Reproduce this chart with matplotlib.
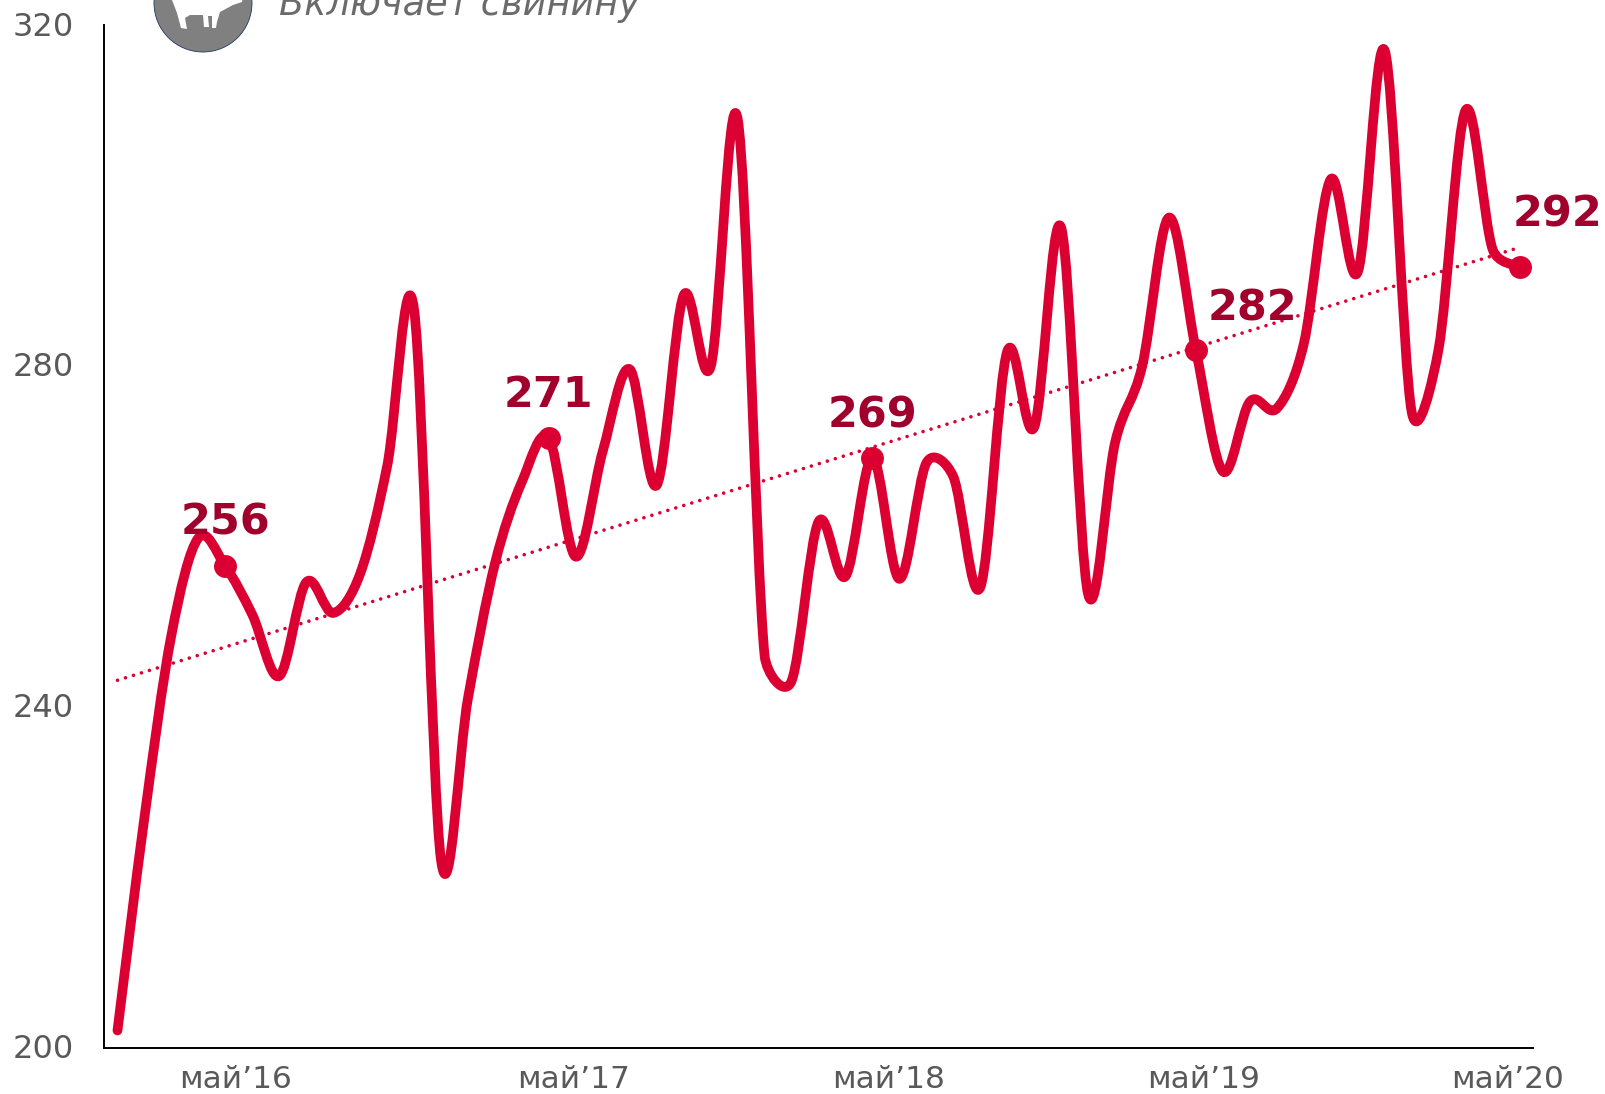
import matplotlib
matplotlib.use("Agg")
import matplotlib.pyplot as plt
from matplotlib.patches import Circle, Polygon, PathPatch
from matplotlib.path import Path
from matplotlib.transforms import ScaledTranslation
import numpy as np

plt.rcParams['font.family'] = ['DejaVu Sans']
plt.rcParams['lines.scale_dashes'] = False

# Monthly values, Jan 2016 .. May 2020
values = [202, 227, 248.4, 259.8, 256.5, 250.8, 243.6, 254.6, 251, 255.6, 268.2, 286.6,
          222.0, 241, 256.8, 266.4, 271.5, 257.6, 270, 279.6, 266, 288.3, 279.9, 309.0,
          246, 243.0, 261.7, 255.3, 269.2, 255, 268.6, 267, 254, 281.7, 272.8, 296.2,
          253.2, 271, 279.9, 297.4, 281.8, 267.6, 275.8, 275, 282.6, 301.9, 291, 317,
          274.6, 282, 310, 293.7, 291.6]
trend_x = [0, 51.8]
trend_y = [243.1, 293.7]
marked_idx = [4, 16, 28, 40, 52]
marked_labels = ['256', '271', '269', '282', '292']
label_offsets = [(0, 31.5), (0, 31), (0, 30.5), (40.5, 30), (27, 37.5)]
xtick_pos = [4.37, 16.91, 28.61, 40.30, 51.57]
xtick_labels = ['май’16', 'май’17', 'май’18', 'май’19', 'май’20']
yticks = [200, 240, 280, 320]
note = 'Включает свинину'

RED = '#DC0032'
DARK = '#A0002B'
GREY = '#595959'

W, H = 1606, 1094
fig = plt.figure(figsize=(W / 100, H / 100), dpi=100)
ax = fig.add_axes([104 / W, (H - 1047.5) / H, (1533 - 104) / W, (1047.5 - 25) / H])
ax.set_xlim(-0.5, 52.5)
ax.set_ylim(200, 320)

x = np.arange(len(values), dtype=float)
y = np.array(values, dtype=float)

# Smoothed line: Catmull-Rom handles, clamped to a share of the segment length
# (worked out in screen proportions), as spreadsheet smoothed lines behave
sx, sy = 1429 / 53, 1022.5 / 120
scr = np.column_stack([x * sx, y * sy])
CLAMP = 0.5


def handle(vec, seg):
    h = vec / 6
    n = np.linalg.norm(h)
    return h * min(1, CLAMP * seg / n) if n else h


verts = [scr[0]]
codes = [Path.MOVETO]
for i in range(len(scr) - 1):
    p0 = scr[max(i - 1, 0)]
    p1 = scr[i]
    p2 = scr[i + 1]
    p3 = scr[min(i + 2, len(scr) - 1)]
    d = np.linalg.norm(p2 - p1)
    verts += [p1 + handle(p2 - p0, d), p2 - handle(p3 - p1, d), p2]
    codes += [Path.CURVE4] * 3
verts = np.array(verts) / [sx, sy]

ax.plot(trend_x, trend_y, color=RED, lw=2.6, linestyle=(0, (0.01, 6)),
        dash_capstyle='round', zorder=2)
ax.add_patch(PathPatch(Path(verts, codes), fill=False, edgecolor=RED, lw=7.0,
                       capstyle='round', joinstyle='round', zorder=3))
ax.plot(x[marked_idx], y[marked_idx], 'o', color=RED, ms=16.5, mew=0, zorder=4)

for idx, lab, off in zip(marked_idx, marked_labels, label_offsets):
    ax.annotate(lab, (x[idx], y[idx]), xytext=off, textcoords='offset points',
                ha='center', va='center', fontsize=31, fontweight='bold',
                color=DARK, zorder=5, annotation_clip=False)

for s in ('top', 'right'):
    ax.spines[s].set_visible(False)
for s in ('left', 'bottom'):
    ax.spines[s].set_color('black')
    ax.spines[s].set_linewidth(1.4)

ax.set_yticks(yticks)
ax.set_xticks(xtick_pos)
ax.set_xticklabels(xtick_labels)
ax.tick_params(axis='y', length=0, pad=21.5, labelsize=23, labelcolor=GREY)
ax.tick_params(axis='x', length=0, pad=12.5, labelsize=22.5, labelcolor=GREY)
shift = ScaledTranslation(0, 1 / 72, fig.dpi_scale_trans)
for lab in ax.get_yticklabels():
    lab.set_transform(lab.get_transform() + shift)

# Overlay in pixel coordinates for the clipped icon and note at the top
ov = fig.add_axes([0, 0, 1, 1], facecolor='none')
ov.set_xlim(0, W)
ov.set_ylim(H, 0)
ov.axis('off')
ov.add_patch(Circle((203, 3), 49, facecolor='#808080', edgecolor='#1f3a5f', lw=0.6))
sheep = [(172, -5), (172, 0), (177, 13), (181, 28), (187, 29), (185, 18), (190, 15),
         (203, 15), (204, 27), (209, 27), (208, 16), (212, 16), (212, 28), (216, 28),
         (217, 22), (220, 12), (233, 5), (242, 2), (243, -5)]
ov.add_patch(Polygon(sheep, closed=True, facecolor='white', edgecolor='none'))
ov.text(279, 15, note, fontsize=26.5, style='italic', color='#6b6b6b',
        ha='left', va='baseline')

fig.savefig('out.png', dpi=100)
